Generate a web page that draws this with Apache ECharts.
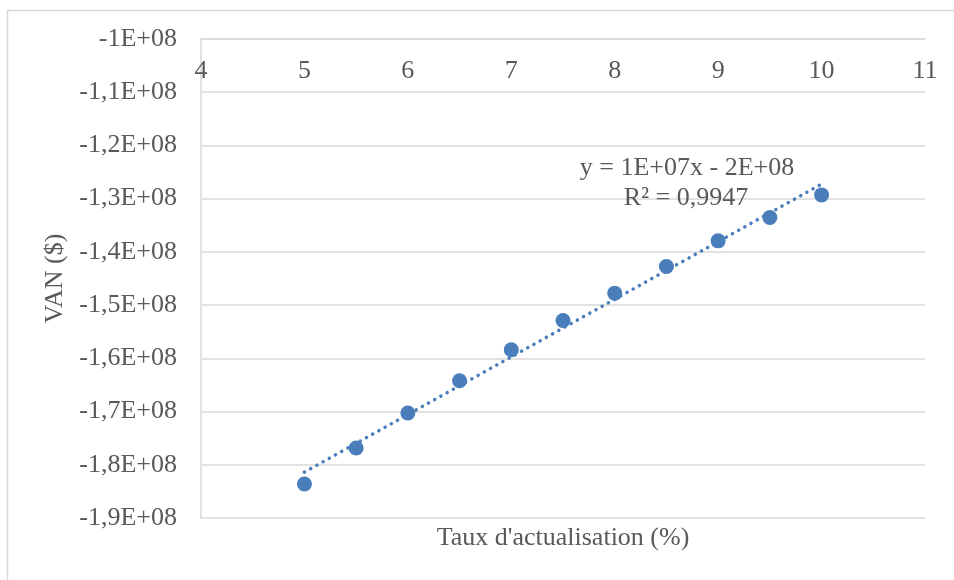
<!DOCTYPE html>
<html>
<head>
<meta charset="utf-8">
<script src="https://cdn.jsdelivr.net/npm/echarts@6/dist/echarts.min.js"></script>
<style>
  html, body { margin: 0; padding: 0; background: #ffffff; }
  #chart { width: 954px; height: 580px; }
</style>
</head>
<body>
<div id="chart"></div>
<script>
// Discount rate (%) and net present value ($)
const rates = [5, 5.5, 6, 6.5, 7, 7.5, 8, 8.5, 9, 9.5, 10];
const npv = [-1.8361e8, -1.7685e8, -1.7028e8, -1.6421e8, -1.5839e8, -1.5289e8,
             -1.4775e8, -1.4275e8, -1.3793e8, -1.3355e8, -1.2929e8];

const xTicks = [4, 5, 6, 7, 8, 9, 10, 11];
const yTicks = [-1e8, -1.1e8, -1.2e8, -1.3e8, -1.4e8, -1.5e8, -1.6e8, -1.7e8, -1.8e8, -1.9e8];
const yTickLabels = ['-1E+08', '-1,1E+08', '-1,2E+08', '-1,3E+08', '-1,4E+08',
                     '-1,5E+08', '-1,6E+08', '-1,7E+08', '-1,8E+08', '-1,9E+08'];

const trendEquation = 'y = 1E+07x - 2E+08';
const trendR2 = 'R² = 0,9947';

// Least-squares linear trend through the points
function linearFit(xs, ys) {
  const n = xs.length;
  let sx = 0, sy = 0, sxx = 0, sxy = 0;
  for (let i = 0; i < n; i++) {
    sx += xs[i]; sy += ys[i]; sxx += xs[i] * xs[i]; sxy += xs[i] * ys[i];
  }
  const slope = (n * sxy - sx * sy) / (n * sxx - sx * sx);
  const intercept = (sy - slope * sx) / n;
  return { slope, intercept };
}
const fit = linearFit(rates, npv);
const xFirst = rates[0], xLast = rates[rates.length - 1];
const trendData = [
  [xFirst, fit.slope * xFirst + fit.intercept],
  [xLast, fit.slope * xLast + fit.intercept]
];

const blue = '#4a7ebb';
const textGrey = '#595959';
const gridGrey = '#d9d9d9';
const serif = '"Liberation Serif", "Times New Roman", serif';

const W = 954, H = 580;
const grid = { left: 201, top: 39, right: 29, bottom: 62 };

const chart = echarts.init(document.getElementById('chart'), null, { renderer: 'canvas' });

chart.setOption({
  animation: false,
  backgroundColor: '#ffffff',
  textStyle: { fontFamily: serif },
  grid: Object.assign({ containLabel: false }, grid),
  graphic: [
    {
      type: 'rect',
      shape: { x: 7.5, y: 10.5, width: 980, height: 620 },
      style: { fill: 'none', stroke: gridGrey, lineWidth: 1.5 },
      silent: true,
      z: 0
    },
    {
      type: 'text',
      x: 687,
      y: 168,
      style: {
        text: trendEquation,
        font: '26px ' + serif,
        fill: textGrey,
        textAlign: 'center',
        textVerticalAlign: 'middle'
      },
      z: 10
    },
    {
      type: 'text',
      x: 686,
      y: 198,
      style: {
        text: trendR2,
        font: '26px ' + serif,
        fill: textGrey,
        textAlign: 'center',
        textVerticalAlign: 'middle'
      },
      z: 10
    },
    {
      type: 'text',
      x: (grid.left + W - grid.right) / 2,
      y: 538,
      style: {
        text: "Taux d'actualisation (%)",
        font: '26px ' + serif,
        fill: textGrey,
        textAlign: 'center',
        textVerticalAlign: 'middle'
      },
      z: 10
    }
  ],
  xAxis: {
    type: 'value',
    position: 'top',
    min: 4,
    max: 11,
    interval: 1,
    axisLine: { show: true, lineStyle: { color: gridGrey, width: 1.5 } },
    axisTick: { show: false },
    splitLine: { show: false },
    axisLabel: {
      inside: true,
      margin: 19,
      color: textGrey,
      fontSize: 26,
      fontFamily: serif,
      formatter: v => (xTicks.indexOf(v) >= 0 ? String(v) : '')
    }
  },
  yAxis: {
    type: 'value',
    min: -1.9e8,
    max: -1e8,
    interval: 1e7,
    name: 'VAN ($)',
    nameLocation: 'middle',
    nameGap: 131,
    nameRotate: 90,
    nameTextStyle: { color: textGrey, fontSize: 26, fontFamily: serif },
    axisLine: { show: true, lineStyle: { color: gridGrey, width: 1.5 } },
    axisTick: { show: false },
    splitLine: { show: true, lineStyle: { color: gridGrey, width: 1.5 } },
    axisLabel: {
      margin: 24,
      color: textGrey,
      fontSize: 26,
      fontFamily: serif,
      formatter: v => {
        let best = 0;
        for (let i = 1; i < yTicks.length; i++) {
          if (Math.abs(yTicks[i] - v) < Math.abs(yTicks[best] - v)) best = i;
        }
        return yTickLabels[best];
      }
    }
  },
  series: [
    {
      name: 'Tendance',
      type: 'line',
      data: trendData,
      symbol: 'none',
      silent: true,
      lineStyle: { color: blue, width: 3.5, type: [0.1, 7], cap: 'round' },
      z: 2
    },
    {
      name: 'VAN',
      type: 'scatter',
      data: rates.map((r, i) => [r, npv[i]]),
      symbol: 'circle',
      symbolSize: 15,
      itemStyle: { color: blue, opacity: 1 },
      z: 3
    }
  ]
});
</script>
</body>
</html>
